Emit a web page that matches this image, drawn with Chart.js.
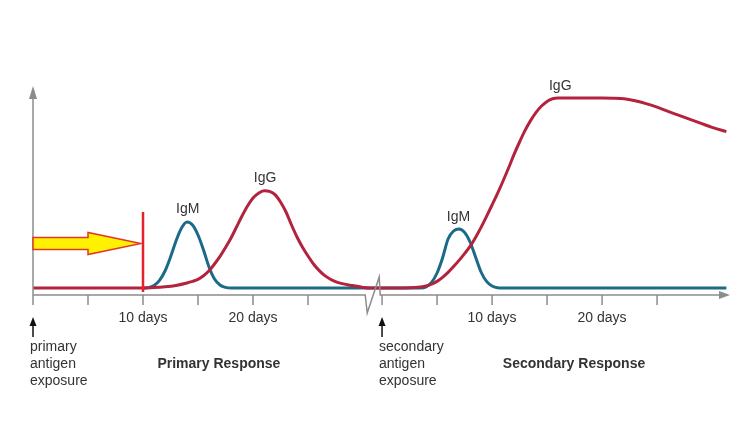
<!DOCTYPE html>
<html>
<head>
<meta charset="utf-8">
<title>Primary and secondary antibody response</title>
<script src="https://cdn.jsdelivr.net/npm/chart.js@4.4.0/dist/chart.umd.min.js"></script>
<style>
  html, body { margin: 0; padding: 0; background: #fff; }
  #wrap { width: 756px; height: 443px; }
</style>
</head>
<body>
<div id="wrap"><canvas id="chart" width="756" height="443"></canvas></div>
<script>
// Days after exposure and relative antibody level (0 = baseline, 100 = top of y axis)
const primaryIgGDays = [0, 2.5, 5, 7.5, 10, 11, 12, 13, 14, 14.5, 15, 15.5, 16, 16.5, 17, 17.5, 18, 18.5, 19, 19.5, 20, 20.5, 21, 21.5, 22, 22.5, 23, 23.5, 24, 24.5, 25, 25.5, 26, 26.5, 27, 27.5, 28, 29, 30, 30.6];
const primaryIgG     = [0, 0, 0, 0, 0, 0.2, 0.6, 1.3, 2.5, 3.3, 4.3, 6.1, 8.6, 12, 15.8, 20.2, 25, 30.5, 36, 41, 45, 47.4, 48.6, 48.3, 46.7, 43, 38, 31.5, 25.5, 20.4, 16, 12, 8.8, 6.3, 4.5, 3.2, 2.3, 1.2, 0.3, 0];

const primaryIgMDays = [10, 10.5, 11, 11.5, 12, 12.5, 13, 13.5, 14, 14.5, 15, 15.5, 16, 16.5, 17, 17.5, 18, 20, 22.5, 25, 27.5, 30.6];
const primaryIgM     = [0, 0.2, 1.2, 3.8, 8.5, 15.5, 23.5, 30, 33, 31.5, 26.5, 19, 10.5, 4.5, 1.5, 0.3, 0, 0, 0, 0, 0, 0];

const secondaryIgGDays = [0, 1, 2, 3, 3.5, 4, 4.5, 5, 5.5, 6, 6.5, 7, 7.5, 8, 8.5, 9, 9.5, 10, 10.5, 11, 11.5, 12, 12.5, 13, 13.5, 14, 14.5, 15, 15.5, 16, 17, 18, 19, 20, 21, 22, 23, 24, 25, 26, 27, 28, 29, 30, 31.3];
const secondaryIgG     = [0, 0, 0, 0.2, 0.5, 1, 1.9, 3.3, 5.3, 7.8, 10.7, 13.8, 17.2, 20.8, 25.3, 30.3, 35.8, 41.5, 47.3, 53.5, 60, 66.8, 73, 78.8, 83.7, 87.8, 91, 93.3, 94.6, 95, 95, 95, 95, 95, 94.9, 94.6, 93.6, 92.2, 90.4, 88.3, 86.3, 84.3, 82.3, 80.3, 78.2];

const secondaryIgMDays = [0, 1, 2, 3, 3.5, 4, 4.5, 5, 5.5, 6, 6.5, 7, 7.5, 8, 8.5, 9, 9.5, 10, 10.5, 11, 13, 16, 20, 25, 31.3];
const secondaryIgM     = [0, 0, 0, 0, 0, 0.6, 2.8, 7.5, 15, 24.5, 28.5, 29.5, 27.8, 23, 15.5, 8, 3.3, 1, 0.1, 0, 0, 0, 0, 0, 0];

// Axis ticks (same for both responses)
const tickDays   = [0, 5, 10, 15, 20, 25];
const tickLabels = ['', '', '10 days', '', '20 days', ''];

// Where the second time axis starts (in days of axis space) after the break
const secondaryOffset = 31.73;
const primaryAxisEnd = 30.2;
const axisMax = 63.36;

const exposureLabels = {
  primary: ['primary', 'antigen', 'exposure'],
  secondary: ['secondary', 'antigen', 'exposure']
};
const responseTitles = ['Primary Response', 'Secondary Response'];

// Curve name labels: [text, axis day, level]
const curveLabels = [
  ['IgM', 14.06, 39.4],
  ['IgG', 21.1, 54.9],
  ['IgM', secondaryOffset + 6.95, 35.2],
  ['IgG', secondaryOffset + 16.2, 100.7]
];

const RED = '#b3233e';
const BLUE = '#1b6b88';
const AXIS = '#8c8c8c';
const TEXT = '#333333';
const FONT = '"Liberation Sans", Arial, sans-serif';

function toPoints(days, vals, shift) {
  return days.map((d, i) => ({ x: d + shift, y: vals[i] }));
}

const diagramPlugin = {
  id: 'diagram',
  afterDatasetsDraw(chart) {
    const ctx = chart.ctx;
    const x = chart.scales.x;
    const y = chart.scales.y;
    const base = y.getPixelForValue(y.min);
    const x0 = x.getPixelForValue(0);
    const xs = x.getPixelForValue(secondaryOffset);

    ctx.save();

    // y axis with arrow
    ctx.strokeStyle = AXIS;
    ctx.fillStyle = AXIS;
    ctx.lineWidth = 1.5;
    ctx.beginPath();
    ctx.moveTo(x0, base);
    ctx.lineTo(x0, chart.chartArea.top + 8);
    ctx.stroke();
    ctx.beginPath();
    ctx.moveTo(x0, chart.chartArea.top - 2);
    ctx.lineTo(x0 - 4, chart.chartArea.top + 11);
    ctx.lineTo(x0 + 4, chart.chartArea.top + 11);
    ctx.closePath();
    ctx.fill();

    // primary time axis + break zigzag + secondary axis
    const xb = x.getPixelForValue(primaryAxisEnd);
    const xe = x.getPixelForValue(axisMax);
    ctx.beginPath();
    ctx.moveTo(x0, base);
    ctx.lineTo(xb, base);
    ctx.lineTo(xb + 2, base + 18);
    ctx.lineTo(xb + 14, base - 18);
    ctx.lineTo(xb + 15, base);
    ctx.lineTo(xe - 9, base);
    ctx.stroke();
    ctx.beginPath();
    ctx.moveTo(xe, base);
    ctx.lineTo(xe - 11, base - 4);
    ctx.lineTo(xe - 11, base + 4);
    ctx.closePath();
    ctx.fill();

    // ticks and tick labels
    ctx.font = '14px ' + FONT;
    ctx.textAlign = 'center';
    ctx.textBaseline = 'middle';
    [0, secondaryOffset].forEach(shift => {
      tickDays.forEach((d, i) => {
        const px = x.getPixelForValue(d + shift);
        ctx.strokeStyle = AXIS;
        ctx.beginPath();
        ctx.moveTo(px, base);
        ctx.lineTo(px, base + 10);
        ctx.stroke();
        if (tickLabels[i]) {
          ctx.fillStyle = TEXT;
          ctx.fillText(tickLabels[i], px, base + 23);
        }
      });
    });

    // exposure arrows and text
    ctx.fillStyle = '#111';
    ctx.strokeStyle = '#111';
    ctx.lineWidth = 1.5;
    [x0, xs].forEach(px => {
      ctx.beginPath();
      ctx.moveTo(px, base + 42);
      ctx.lineTo(px, base + 29);
      ctx.stroke();
      ctx.beginPath();
      ctx.moveTo(px, base + 22);
      ctx.lineTo(px - 3.5, base + 31);
      ctx.lineTo(px + 3.5, base + 31);
      ctx.closePath();
      ctx.fill();
    });
    ctx.fillStyle = TEXT;
    ctx.textAlign = 'left';
    exposureLabels.primary.forEach((t, i) => ctx.fillText(t, x0 - 3, base + 52 + i * 17.3));
    exposureLabels.secondary.forEach((t, i) => ctx.fillText(t, xs - 3, base + 52 + i * 17.3));

    ctx.font = 'bold 14px ' + FONT;
    ctx.textAlign = 'center';
    ctx.fillText(responseTitles[0], x.getPixelForValue(16.9), base + 69);
    ctx.fillText(responseTitles[1], x.getPixelForValue(secondaryOffset + 17.45), base + 69);

    // curve labels
    ctx.font = '14px ' + FONT;
    curveLabels.forEach(([t, d, v]) => {
      ctx.fillText(t, x.getPixelForValue(d), y.getPixelForValue(v));
    });

    // antigen arrow into day 10
    const ax0 = x0;
    const ax1 = x.getPixelForValue(9.8);
    const axh = x.getPixelForValue(5);
    const ay = y.getPixelForValue(22.25);
    ctx.beginPath();
    ctx.moveTo(ax0, ay - 6);
    ctx.lineTo(axh, ay - 6);
    ctx.lineTo(axh, ay - 11);
    ctx.lineTo(ax1, ay);
    ctx.lineTo(axh, ay + 11);
    ctx.lineTo(axh, ay + 6);
    ctx.lineTo(ax0, ay + 6);
    ctx.closePath();
    ctx.fillStyle = '#fff200';
    ctx.fill();
    ctx.strokeStyle = '#e2382b';
    ctx.lineWidth = 1.5;
    ctx.stroke();

    // red marker line at day 10
    const lx = x.getPixelForValue(10);
    ctx.strokeStyle = '#e5222a';
    ctx.lineWidth = 2.5;
    ctx.beginPath();
    ctx.moveTo(lx, y.getPixelForValue(38));
    ctx.lineTo(lx, y.getPixelForValue(-2));
    ctx.stroke();

    ctx.restore();
  }
};

new Chart(document.getElementById('chart'), {
  type: 'line',
  data: {
    datasets: [
      {
        label: 'IgG',
        data: toPoints(primaryIgGDays, primaryIgG, 0).concat(toPoints(secondaryIgGDays, secondaryIgG, secondaryOffset)),
        borderColor: RED,
        borderWidth: 3,
        pointRadius: 0,
        fill: false,
        cubicInterpolationMode: 'monotone',
        clip: false
      },
      {
        label: 'IgM',
        data: toPoints(primaryIgMDays, primaryIgM, 0).concat(toPoints(secondaryIgMDays, secondaryIgM, secondaryOffset)),
        borderColor: BLUE,
        borderWidth: 3,
        pointRadius: 0,
        fill: false,
        cubicInterpolationMode: 'monotone',
        clip: false
      }
    ]
  },
  options: {
    responsive: false,
    animation: false,
    events: [],
    layout: { padding: { left: 33, right: 26, top: 88, bottom: 148 } },
    scales: {
      x: { type: 'linear', min: 0, max: axisMax, display: false },
      y: { type: 'linear', min: -3.5, max: 100, display: false }
    },
    plugins: {
      legend: { display: false },
      tooltip: { enabled: false }
    }
  },
  plugins: [diagramPlugin]
});
</script>
</body>
</html>
